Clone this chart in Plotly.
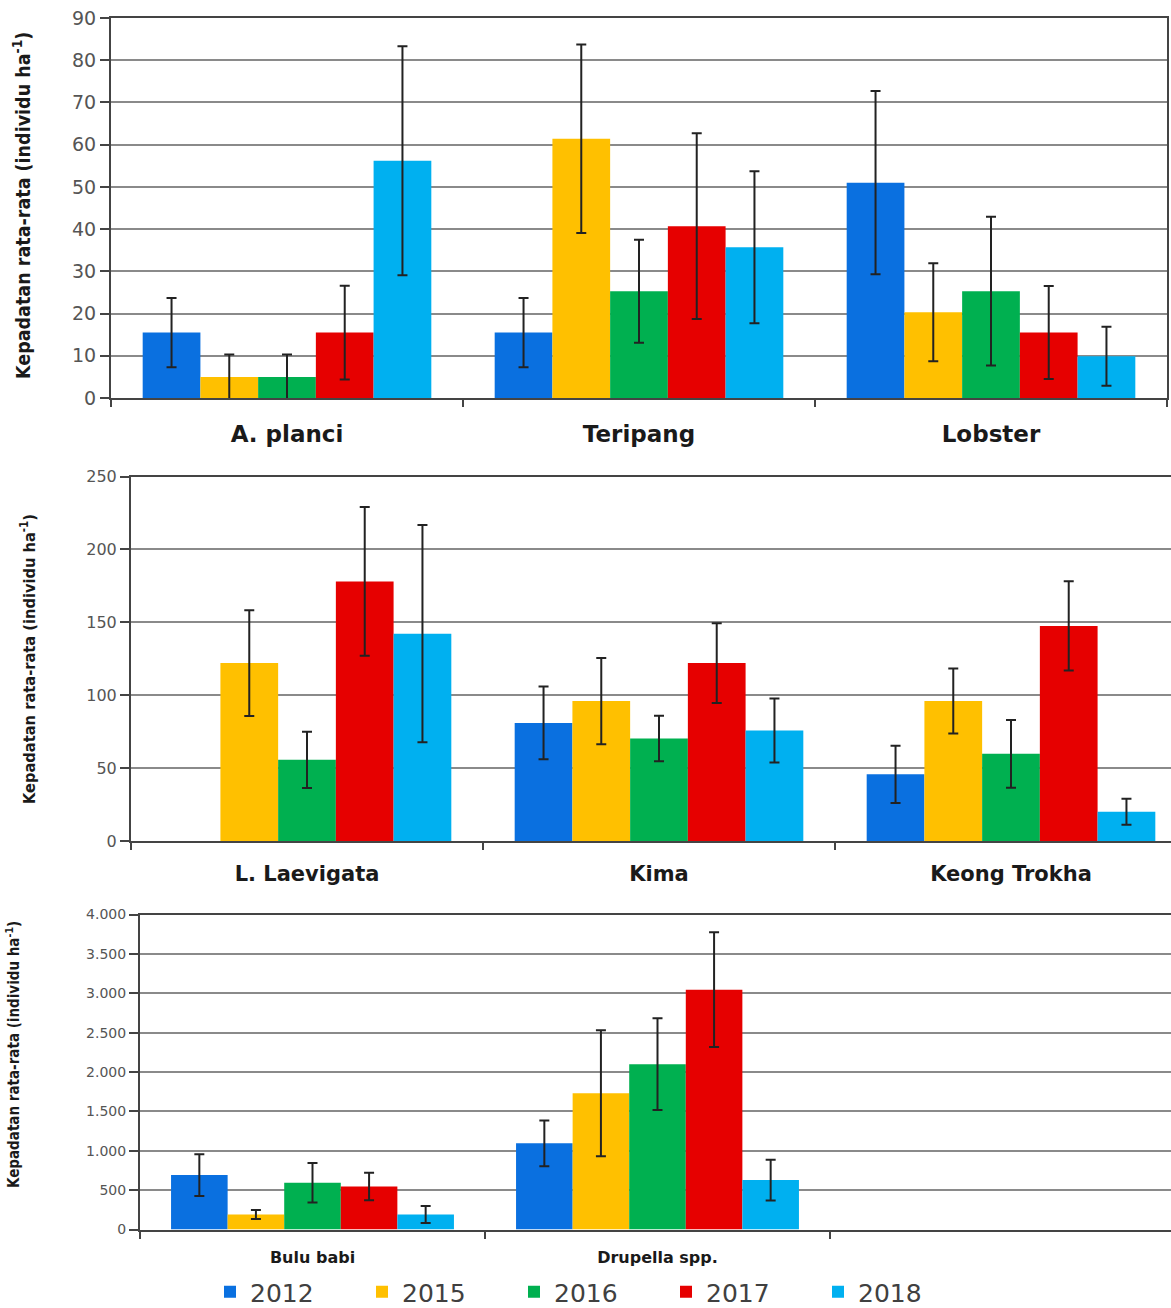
import plotly.graph_objects as go

years = ["2012", "2015", "2016", "2017", "2018"]
colors = ["#0A70E0", "#FFC000", "#00B050", "#E60000", "#00B0F0"]

# Panel 1
cats1 = ["A. planci", "Teripang", "Lobster"]
vals1 = {
    "2012": [15.5, 15.5, 51.0],
    "2015": [5.0, 61.4, 20.3],
    "2016": [5.0, 25.3, 25.3],
    "2017": [15.5, 40.7, 15.5],
    "2018": [56.2, 35.7, 9.9],
}
err1 = {
    "2012": [8.2, 8.2, 21.7],
    "2015": [5.3, 22.3, 11.6],
    "2016": [5.3, 12.2, 17.6],
    "2017": [11.1, 22.0, 11.0],
    "2018": [27.1, 18.0, 7.0],
}

# Panel 2
cats2 = ["L. Laevigata", "Kima", "Keong Trokha"]
vals2 = {
    "2012": [None, 81.0, 45.7],
    "2015": [122.0, 96.0, 96.0],
    "2016": [55.7, 70.3, 59.8],
    "2017": [178.0, 122.0, 147.5],
    "2018": [142.2, 75.8, 20.1],
}
err2 = {
    "2012": [0, 25.0, 19.6],
    "2015": [36.3, 29.6, 22.3],
    "2016": [19.3, 15.6, 23.2],
    "2017": [51.0, 27.4, 30.6],
    "2018": [74.5, 22.0, 8.9],
}

# Panel 3
cats3 = ["Bulu babi", "Drupella spp."]
vals3 = {
    "2012": [691, 1094],
    "2015": [191, 1731],
    "2016": [594, 2100],
    "2017": [547, 3046],
    "2018": [191, 628],
}
err3 = {
    "2012": [265, 290],
    "2015": [58, 800],
    "2016": [250, 583],
    "2017": [175, 728],
    "2018": [108, 259],
}

ytitle = "<b>Kepadatan rata-rata (individu ha<sup>-1</sup>)</b>"

fig = go.Figure()
panels = [(cats1, vals1, err1, "x", "y"),
          (cats2, vals2, err2, "x2", "y2"),
          (cats3, vals3, err3, "x3", "y3")]
for pi, (cats, vals, errs, xa, ya) in enumerate(panels):
    for yr, col in zip(years, colors):
        fig.add_trace(go.Bar(
            x=cats, y=vals[yr], name=yr, marker_color=col,
            marker_line_width=0,
            error_y=dict(type="data", array=errs[yr], color="#222222",
                         thickness=2, width=5),
            xaxis=xa, yaxis=ya, legendgroup=yr, showlegend=(pi == 0),
        ))

H = 1308.0
W = 1171.0
grid = "#8a8a8a"
axc = "#444444"

def xaxis(domain, rng, anchor, size, standoff):
    return dict(domain=domain, anchor=anchor, type="category", range=rng,
                showline=True, linecolor=axc, linewidth=2, mirror=True,
                ticks="outside", tickson="boundaries", ticklen=7,
                tickcolor=axc, tickwidth=2, showgrid=False,
                automargin=False, ticklabelstandoff=standoff,
                tickfont=dict(family="DejaVu Sans", size=size, color="#1a1a1a"),
                tickprefix="<b>", ticksuffix="</b>", fixedrange=True)

def yaxis(domain, rng, dtick, anchor, size, mirror):
    return dict(domain=domain, anchor=anchor, range=rng, dtick=dtick,
                showline=True, linecolor=axc, linewidth=2, mirror=mirror,
                ticks="outside", ticklen=9, tickcolor=axc, tickwidth=2,
                showgrid=True, gridcolor=grid, gridwidth=1.5,
                zeroline=False, automargin=False,
                tickfont=dict(family="DejaVu Sans", size=size, color="#555555"),
                fixedrange=True)

fig.update_layout(
    width=1171, height=1308,
    margin=dict(l=0, r=0, t=0, b=0, autoexpand=False),
    paper_bgcolor="white", plot_bgcolor="white",
    separators=",.",
    barmode="group", bargap=0.18, bargroupgap=0,
    xaxis=xaxis([111 / W, 1167 / W], [-0.5, 2.5], "y", 23, 14),
    yaxis=yaxis([1 - 398 / H, 1 - 18 / H], [0, 90], 10, "x", 19, True),
    xaxis2=xaxis([131 / W, 1.0], [-0.5, -0.5 + 1040 / 352], "y2", 21, 13),
    yaxis2=yaxis([1 - 841 / H, 1 - 476.5 / H], [0, 250], 50, "x2", 16, False),
    xaxis3=xaxis([140 / W, 1.0], [-0.5, -0.5 + 1031 / 345], "y3", 16, 12),
    yaxis3=yaxis([1 - 1229.5 / H, 1 - 914.5 / H], [0, 4000], 500, "x3", 14, False),
    legend=dict(orientation="h", x=210 / W, xanchor="left",
                y=1 - 1292 / H, yanchor="middle",
                font=dict(family="DejaVu Sans", size=25, color="#404040"),
                entrywidth=107, entrywidthmode="pixels",
                bgcolor="rgba(0,0,0,0)"),
)
fig.layout.yaxis3.separatethousands = True

title_font = "Liberation Sans Narrow, DejaVu Sans Condensed, Arial Narrow, sans-serif"
for xc, yc, sz in [(22, 206, 19.5), (28, 659, 16.3), (13, 1055, 15)]:
    fig.add_annotation(text=ytitle, x=xc / W, y=1 - yc / H, xref="paper",
                       yref="paper", textangle=-90, showarrow=False,
                       font=dict(family=title_font, size=sz, color="#1a1a1a"),
                       xanchor="center", yanchor="middle")

fig.write_html("out.html")
